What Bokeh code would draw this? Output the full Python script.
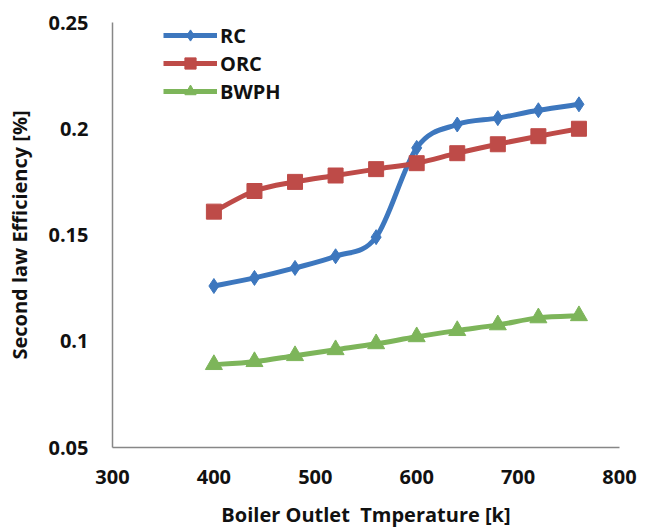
from bokeh.plotting import figure
from bokeh.models import FixedTicker, Legend, LegendItem, Range1d
from bokeh.embed import file_html
from bokeh.resources import INLINE

# ---- data ----
temperature = [400, 440, 480, 520, 560, 600, 640, 680, 720, 760]
rc = [0.126, 0.1298, 0.1345, 0.140, 0.149, 0.191, 0.202, 0.205, 0.2087, 0.2115]
orc = [0.161, 0.1707, 0.175, 0.178, 0.181, 0.1838, 0.1885, 0.1927, 0.1965, 0.200]
bwph = [0.089, 0.0904, 0.0932, 0.096, 0.0988, 0.1021, 0.105, 0.1077, 0.111, 0.112]

x_ticks = [300, 400, 500, 600, 700, 800]
y_ticks = [0.05, 0.1, 0.15, 0.2, 0.25]
y_tick_labels = ["0.05", "0.1", "0.15", "0.2", "0.25"]

series_names = ["RC", "ORC", "BWPH"]
colors = ["#3D77BE", "#BE4B48", "#7DB55A"]
markers = ["diamond", "square", "triangle"]

FONT = "Open Sans"
NAN = float("nan")


def smooth_controls(xs, ys):
    """Bezier control points for an Excel-like smoothed line through the data."""
    n = len(xs)
    x0, y0, x1, y1, cx0, cy0, cx1, cy1 = [], [], [], [], [], [], [], []
    for i in range(n - 1):
        ip = max(i - 1, 0)
        inx = min(i + 2, n - 1)
        x0.append(xs[i]); y0.append(ys[i])
        x1.append(xs[i + 1]); y1.append(ys[i + 1])
        cx0.append(xs[i] + (xs[i + 1] - xs[ip]) / 6.0)
        cy0.append(ys[i] + (ys[i + 1] - ys[ip]) / 6.0)
        cx1.append(xs[i + 1] - (xs[inx] - xs[i]) / 6.0)
        cy1.append(ys[i + 1] - (ys[inx] - ys[i]) / 6.0)
    return dict(x0=x0, y0=y0, x1=x1, y1=y1, cx0=cx0, cy0=cy0, cx1=cx1, cy1=cy1)


p = figure(width=648, height=530, output_backend="svg", toolbar_location=None,
           x_range=Range1d(300, 800), y_range=Range1d(0.05, 0.25),
           min_border_left=112, min_border_right=29, min_border_top=22,
           min_border_bottom=82)
p.outline_line_color = None
p.grid.visible = False
p.background_fill_color = "white"
p.border_fill_color = "white"

items = []
for name, ys, col, mk in zip(series_names, [rc, orc, bwph], colors, markers):
    c = smooth_controls(temperature, ys)
    p.bezier(x0=c["x0"], y0=c["y0"], x1=c["x1"], y1=c["y1"],
             cx0=c["cx0"], cy0=c["cy0"], cx1=c["cx1"], cy1=c["cy1"],
             line_color=col, line_width=5)
    # line renderer with no drawable point: only supplies the legend swatch
    r_key = p.line(x=[NAN], y=[NAN], line_color=col, line_width=5)
    r_pts = p.scatter(temperature, ys, marker=mk, size=15 if mk != "triangle" else 17,
                      fill_color=col, line_color=col)
    items.append(LegendItem(label=name, renderers=[r_key, r_pts]))

legend = Legend(items=items, location=(51, 342), padding=0, margin=0,
                spacing=0, glyph_width=54, glyph_height=28, label_height=20,
                label_standoff=3, border_line_color=None,
                background_fill_alpha=0,
                label_text_font=FONT, label_text_font_style="bold",
                label_text_font_size="20px", label_text_color="#111111")
p.add_layout(legend, "center")

for ax in (p.xaxis[0], p.yaxis[0]):
    ax.axis_line_color = "#878787"
    ax.axis_line_width = 1.5
    ax.major_tick_line_color = None
    ax.minor_tick_line_color = None
    ax.major_tick_out = 0
    ax.major_tick_in = 0
    ax.minor_tick_out = 0
    ax.major_label_text_font = FONT
    ax.major_label_text_font_style = "bold"
    ax.major_label_text_font_size = "20px"
    ax.major_label_text_color = "#111111"
    ax.axis_label_text_font = FONT
    ax.axis_label_text_font_style = "bold"
    ax.axis_label_text_font_size = "20px"
    ax.axis_label_text_color = "#111111"

p.xaxis.ticker = FixedTicker(ticks=x_ticks)
p.yaxis.ticker = FixedTicker(ticks=y_ticks)
p.yaxis.major_label_overrides = {t: l for t, l in zip(y_ticks, y_tick_labels)}
p.xaxis.major_label_standoff = 22
p.yaxis.major_label_standoff = 24
p.xaxis.axis_label = "Boiler Outlet \u00a0Tmperature [k]"
p.yaxis.axis_label = "Second law Efficiency [%]"
p.xaxis.axis_label_standoff = 14
p.yaxis.axis_label_standoff = 12

open("out.html", "w").write(file_html(p, INLINE))
